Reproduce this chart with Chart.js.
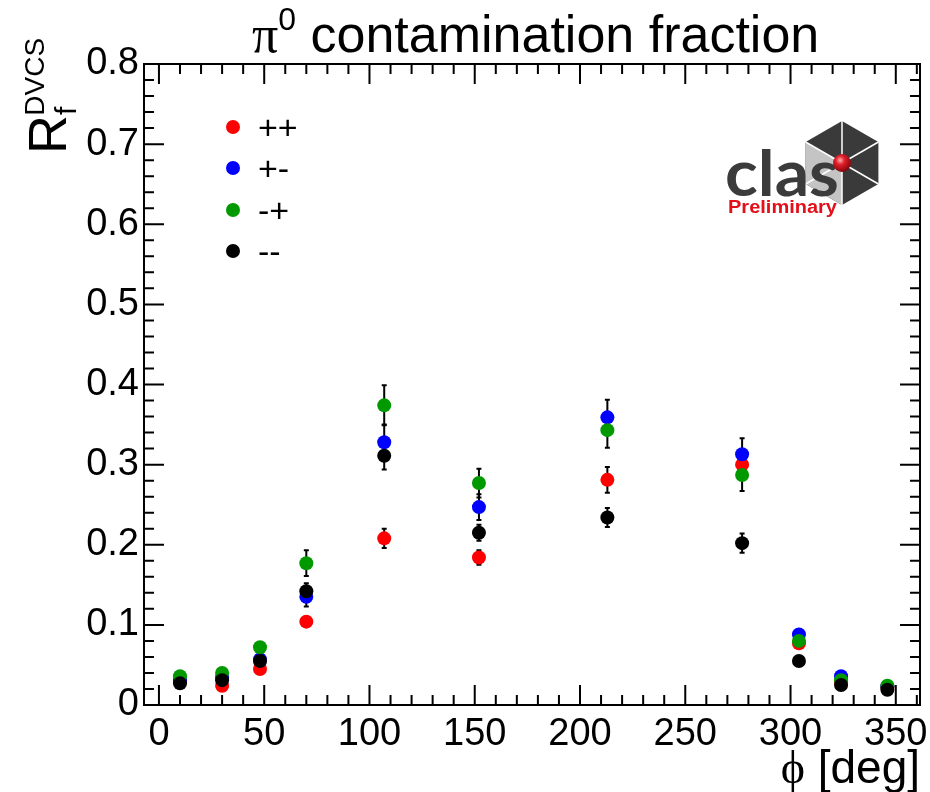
<!DOCTYPE html>
<html>
<head>
<meta charset="utf-8">
<script src="https://cdn.jsdelivr.net/npm/chart.js@4.4.1/dist/chart.umd.min.js"></script>
<style>
  html, body { margin: 0; padding: 0; background: #fff; }
  #wrap { position: relative; width: 930px; height: 792px; font-family: 'Liberation Sans', Arial, sans-serif; color: #000; }
  #plot { position: absolute; left: 0; top: 0; }
  .greek { font-family: 'Liberation Serif', 'DejaVu Serif', serif; }
  #title { position: absolute; left: 252px; top: 7px; font-size: 52px; line-height: 1; white-space: nowrap; }
  #title sup { font-size: 32px; position: relative; top: -4px; }
  #xTitle { position: absolute; right: 10px; top: 744px; font-size: 46px; line-height: 1; white-space: nowrap; }
  #yTitle { position: absolute; left: 20px; top: 154px; font-size: 54px; line-height: 1; white-space: nowrap;
            transform-origin: left top; transform: rotate(-90deg); }
  #yTitle .sub { font-size: 30px; position: relative; top: 10px; }
  #yTitle .sup { font-size: 28px; position: relative; top: -22px; margin-left: -9px; }
  #legend { position: absolute; left: 224px; top: 108px; }
  .entry { position: relative; height: 41.3px; width: 120px; font-size: 34px; line-height: 38px; white-space: nowrap; }
  .dot { position: absolute; left: 2px; top: 12px; width: 14px; height: 14px; border-radius: 50%; }
  .lab { position: absolute; left: 34px; top: 0; }
  #logo { position: absolute; left: 715px; top: 112px; }
</style>
</head>
<body>
<div id="wrap">
  <canvas id="plot" width="930" height="792"></canvas>
  <div id="title"><span class="greek">π</span><sup>0</sup> contamination fraction</div>
  <div id="yTitle">R<span class="sub">f</span><span class="sup">DVCS</span></div>
  <div id="xTitle"><span class="greek">ϕ</span> [deg]</div>
  <div id="legend"></div>
  <svg id="logo" width="180" height="110" viewBox="0 0 180 110">
    <defs>
      <radialGradient id="ball" cx="0.4" cy="0.35" r="0.7">
        <stop offset="0" stop-color="#ffb0b0"/>
        <stop offset="0.35" stop-color="#e0202a"/>
        <stop offset="1" stop-color="#7a0008"/>
      </radialGradient>
    </defs>
    <polygon points="127,9 163.4,30 163.4,72 127,93 90.6,72 90.6,30" fill="#3a3a3a"/>
    <polygon points="127,51 90.6,30 90.6,72 127,93" fill="#c4c4c4"/>
    <g stroke="#fff" stroke-width="1.5">
      <line x1="127" y1="51" x2="127" y2="9"/>
      <line x1="127" y1="51" x2="163.4" y2="30"/>
      <line x1="127" y1="51" x2="163.4" y2="72"/>
      <line x1="127" y1="51" x2="127" y2="93"/>
      <line x1="127" y1="51" x2="90.6" y2="72"/>
      <line x1="127" y1="51" x2="90.6" y2="30"/>
    </g>
    <text x="10" y="84" font-family="Lato, 'Open Sans', sans-serif" font-weight="bold" font-size="64" fill="#3b3b3b" textLength="114" lengthAdjust="spacingAndGlyphs">clas</text>
    <circle cx="127" cy="51" r="9" fill="url(#ball)"/>
    <text x="13" y="101" font-family="'Liberation Sans', Arial, sans-serif" font-weight="bold" font-size="18" fill="#e3101a" textLength="109" lengthAdjust="spacingAndGlyphs">Preliminary</text>
  </svg>
</div>
<script>
// phi bins [deg]
const phiBins = [10, 30, 48, 70, 107, 152, 213, 277, 304, 324, 346];

// R_f^DVCS per helicity/target-polarisation combination
const rPP = [0.029, 0.024, 0.045, 0.104, 0.208, 0.184, 0.281, 0.300, 0.077, 0.028, 0.022];
const rPM = [0.031, 0.035, 0.057, 0.135, 0.328, 0.247, 0.359, 0.313, 0.088, 0.036, 0.023];
const rMP = [0.036, 0.040, 0.072, 0.177, 0.374, 0.277, 0.343, 0.287, 0.080, 0.031, 0.024];
const rMM = [0.027, 0.031, 0.055, 0.142, 0.311, 0.215, 0.234, 0.202, 0.055, 0.025, 0.019];

// statistical errors
const ePP = [0.003, 0.003, 0.004, 0.006, 0.012, 0.009, 0.016, 0.015, 0.005, 0.003, 0.002];
const ePM = [0.003, 0.003, 0.004, 0.012, 0.022, 0.016, 0.022, 0.020, 0.005, 0.003, 0.002];
const eMP = [0.003, 0.003, 0.004, 0.016, 0.025, 0.018, 0.022, 0.020, 0.006, 0.003, 0.002];
const eMM = [0.003, 0.003, 0.004, 0.010, 0.017, 0.010, 0.012, 0.012, 0.004, 0.003, 0.002];

const seriesNames = ['++', '+-', '-+', '--'];
const seriesColors = ['#ff0000', '#0000ff', '#009a00', '#000000'];

const xTicks = [0, 50, 100, 150, 200, 250, 300, 350];
const yTicks = [0, 0.1, 0.2, 0.3, 0.4, 0.5, 0.6, 0.7, 0.8];
const yTickLabels = ['0', '0.1', '0.2', '0.3', '0.4', '0.5', '0.6', '0.7', '0.8'];

const X_MIN = -7.1, X_MAX = 361.5;
const Y_MIN = 0, Y_MAX = 0.8;

const values = [rPP, rPM, rMP, rMM];
const errors = [ePP, ePM, eMP, eMM];

const datasets = values.map((vals, i) => ({
    label: seriesNames[i],
    data: phiBins.map((x, j) => ({ x: x, y: vals[j] })),
    errors: errors[i],
    backgroundColor: seriesColors[i],
    borderColor: seriesColors[i],
    borderWidth: 0,
    pointRadius: 7,
    pointHoverRadius: 7,
    order: 4 - i   // ++ drawn first, -- ends up on top
}));

// legend as html
const legendEl = document.getElementById('legend');
seriesNames.forEach((name, i) => {
    legendEl.innerHTML += `<div class="entry"><span class="dot" style="background:${seriesColors[i]}"></span><span class="lab">${name}</span></div>`;
});

// vertical error bars with small caps, under the markers
const errorBars = {
    id: 'errorBars',
    beforeDatasetsDraw(chart) {
        const { ctx, scales: { x, y } } = chart;
        ctx.save();
        ctx.strokeStyle = '#000';
        ctx.lineWidth = 2;
        chart.data.datasets.forEach(ds => {
            ds.data.forEach((p, j) => {
                const e = ds.errors[j];
                const px = x.getPixelForValue(p.x);
                const top = y.getPixelForValue(p.y + e);
                const bot = y.getPixelForValue(p.y - e);
                ctx.beginPath();
                ctx.moveTo(px, top); ctx.lineTo(px, bot);
                ctx.moveTo(px - 2.5, top); ctx.lineTo(px + 2.5, top);
                ctx.moveTo(px - 2.5, bot); ctx.lineTo(px + 2.5, bot);
                ctx.stroke();
            });
        });
        ctx.restore();
    }
};

// frame with inward ticks on all four sides
const frameTicks = {
    id: 'frameTicks',
    afterDraw(chart) {
        const { ctx, chartArea: a, scales: { x, y } } = chart;
        ctx.save();
        ctx.strokeStyle = '#000';
        ctx.lineWidth = 2;
        ctx.strokeRect(a.left, a.top, a.right - a.left, a.bottom - a.top);
        ctx.beginPath();
        for (let v = 0; v <= 360; v += 10) {
            const px = x.getPixelForValue(v);
            const len = v % 50 === 0 ? 20 : 10;
            ctx.moveTo(px, a.bottom); ctx.lineTo(px, a.bottom - len);
            ctx.moveTo(px, a.top); ctx.lineTo(px, a.top + len);
        }
        for (let k = 0; k <= 40; k++) {
            const py = y.getPixelForValue(k * 0.02);
            const len = k % 5 === 0 ? 20 : 10;
            ctx.moveTo(a.left, py); ctx.lineTo(a.left + len, py);
            ctx.moveTo(a.right, py); ctx.lineTo(a.right - len, py);
        }
        ctx.stroke();
        ctx.restore();
    }
};

const tickFont = { family: "'Liberation Sans', Arial, sans-serif", size: 38 };

new Chart(document.getElementById('plot'), {
    type: 'scatter',
    data: { datasets: datasets },
    options: {
        responsive: false,
        animation: false,
        devicePixelRatio: 1,
        layout: { padding: { left: 0, top: 64, right: 10, bottom: 0 } },
        plugins: {
            legend: { display: false },
            tooltip: { enabled: false },
            title: { display: false }
        },
        scales: {
            x: {
                type: 'linear',
                min: X_MIN,
                max: X_MAX,
                afterBuildTicks: s => { s.ticks = xTicks.map(v => ({ value: v })); },
                afterFit: s => { s.height = 87; s.paddingRight = 0; },
                grid: { display: false, drawTicks: false },
                border: { display: false },
                ticks: { color: '#000', font: tickFont, padding: 7, maxRotation: 0, autoSkip: false }
            },
            y: {
                type: 'linear',
                min: Y_MIN,
                max: Y_MAX,
                afterBuildTicks: s => { s.ticks = yTicks.map(v => ({ value: v })); },
                afterFit: s => { s.width = 144; },
                grid: { display: false, drawTicks: false },
                border: { display: false },
                ticks: {
                    color: '#000', font: tickFont, padding: 5, autoSkip: false,
                    callback: (v, i) => yTickLabels[i]
                }
            }
        }
    },
    plugins: [errorBars, frameTicks]
});
</script>
</body>
</html>
